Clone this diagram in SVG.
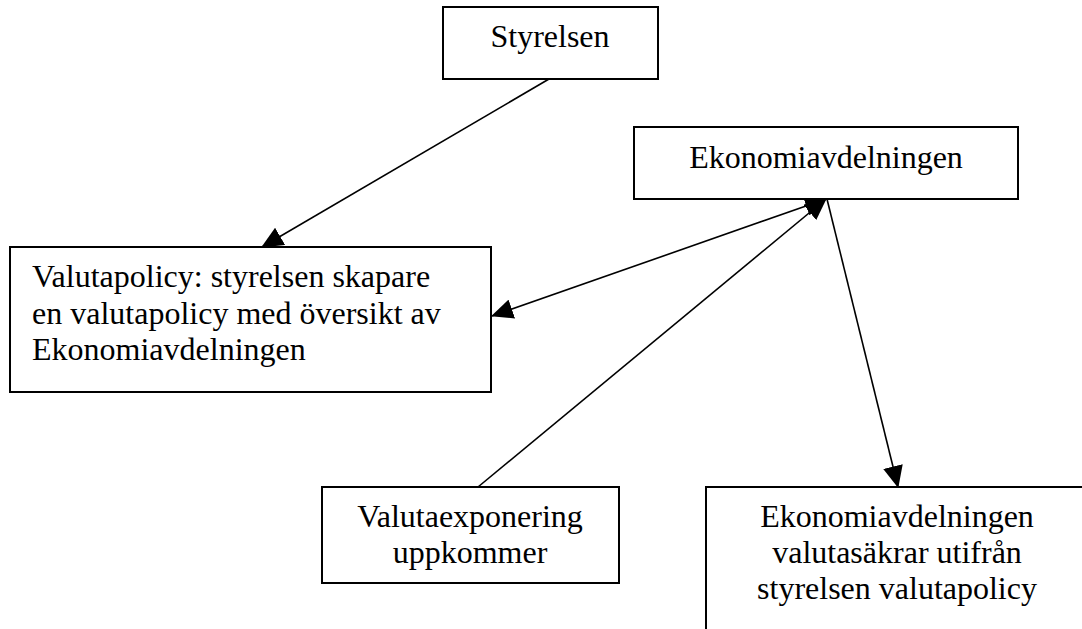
<svg xmlns="http://www.w3.org/2000/svg" width="1082" height="629" viewBox="0 0 1082 629">
  <style>
    .box { fill: #ffffff; stroke: #000000; stroke-width: 2; }
    .label { font-family: "Liberation Serif", "Times New Roman", serif; font-size: 32px; fill: #000000; }
    .mid { text-anchor: middle; }
    .edge { stroke: #000000; stroke-width: 1.6; fill: none; }
  </style>
  <defs>
    <marker id="arrowEnd" markerUnits="userSpaceOnUse" markerWidth="22" markerHeight="20" viewBox="0 0 22 20" refX="21" refY="10" orient="auto">
      <path d="M0,0 L22,10 L0,20 Z" fill="#000000"/>
    </marker>
    <marker id="arrowStart" markerUnits="userSpaceOnUse" markerWidth="22" markerHeight="20" viewBox="0 0 22 20" refX="1" refY="10" orient="auto">
      <path d="M22,0 L0,10 L22,20 Z" fill="#000000"/>
    </marker>
  </defs>

  <rect width="1082" height="629" fill="#ffffff"/>

  <!-- connectors -->
  <g id="connectors">
    <line class="edge" x1="549" y1="79" x2="262" y2="247" marker-end="url(#arrowEnd)"/>
    <line class="edge" x1="492" y1="316" x2="826" y2="199" marker-start="url(#arrowStart)" marker-end="url(#arrowEnd)"/>
    <line class="edge" x1="478" y1="487" x2="826" y2="199" marker-end="url(#arrowEnd)"/>
    <line class="edge" x1="827" y1="199" x2="898" y2="487" marker-end="url(#arrowEnd)"/>
  </g>

  <!-- nodes -->
  <g id="styrelsen">
    <rect class="box" x="443" y="7" width="215" height="72"/>
    <text class="label mid" x="550" y="47">Styrelsen</text>
  </g>

  <g id="ekonomiavdelningen">
    <rect class="box" x="634" y="127" width="384" height="72"/>
    <text class="label mid" x="826" y="168">Ekonomiavdelningen</text>
  </g>

  <g id="valutapolicy">
    <rect class="box" x="10" y="247" width="481" height="145"/>
    <text class="label" x="32" y="287">Valutapolicy: styrelsen skapare</text>
    <text class="label" x="32" y="323.5">en valutapolicy med översikt av</text>
    <text class="label" x="32" y="360">Ekonomiavdelningen</text>
  </g>

  <g id="valutaexponering">
    <rect class="box" x="322" y="487" width="297" height="96"/>
    <text class="label mid" x="470" y="527">Valutaexponering</text>
    <text class="label mid" x="470" y="563">uppkommer</text>
  </g>

  <g id="valutasakring">
    <rect class="box" x="706" y="487" width="390" height="160"/>
    <text class="label mid" x="897" y="527">Ekonomiavdelningen</text>
    <text class="label mid" x="897" y="563">valutasäkrar utifrån</text>
    <text class="label mid" x="897" y="599">styrelsen valutapolicy</text>
  </g>
</svg>
